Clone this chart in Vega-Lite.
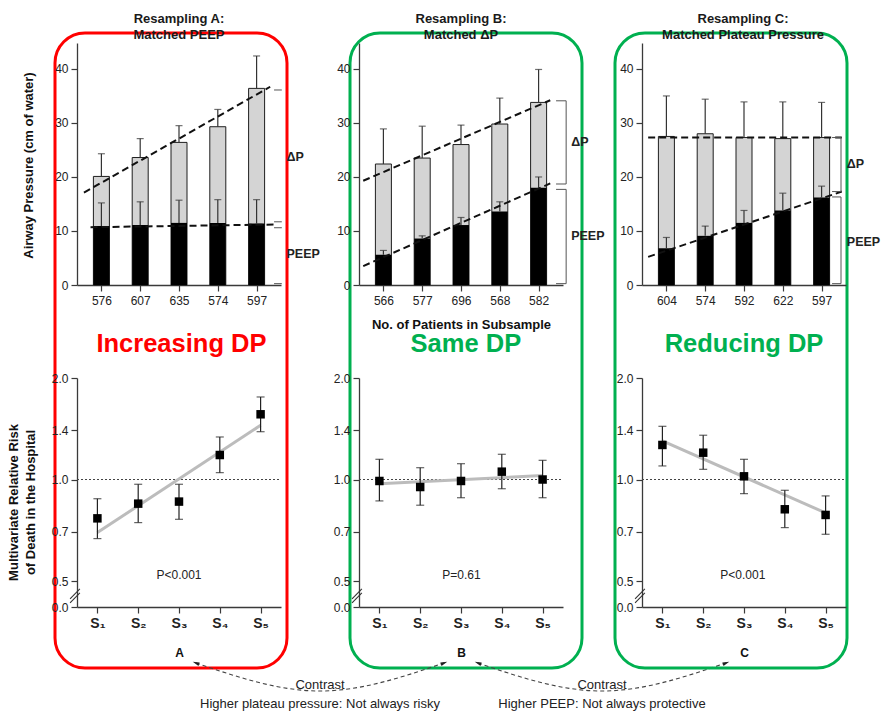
{
  "$schema": "https://vega.github.io/schema/vega-lite/v6.json",
  "background": "white",
  "padding": {"left": 5, "top": 11, "right": 0, "bottom": 0},
  "bounds": "flush",
  "spacing": 63,
  "datasets": {
    "pressureA": [
      {"s": 1, "plateau": 20.1, "plateauHi": 24.3, "peep": 10.9, "peepHi": 15.2},
      {"s": 2, "plateau": 23.6, "plateauHi": 27.1, "peep": 11.1, "peepHi": 15.4},
      {"s": 3, "plateau": 26.4, "plateauHi": 29.5, "peep": 11.5, "peepHi": 15.7},
      {"s": 4, "plateau": 29.3, "plateauHi": 32.5, "peep": 11.5, "peepHi": 15.8},
      {"s": 5, "plateau": 36.4, "plateauHi": 42.4, "peep": 11.4, "peepHi": 15.8}
    ],
    "pressureB": [
      {"s": 1, "plateau": 22.4, "plateauHi": 28.9, "peep": 5.6, "peepHi": 6.4},
      {"s": 2, "plateau": 23.5, "plateauHi": 29.4, "peep": 8.6, "peepHi": 9.1},
      {"s": 3, "plateau": 26.0, "plateauHi": 29.6, "peep": 11.1, "peepHi": 12.5},
      {"s": 4, "plateau": 29.8, "plateauHi": 34.6, "peep": 13.6, "peepHi": 15.4},
      {"s": 5, "plateau": 33.8, "plateauHi": 39.9, "peep": 18.0, "peepHi": 20.0}
    ],
    "pressureC": [
      {"s": 1, "plateau": 27.5, "plateauHi": 35.0, "peep": 6.8, "peepHi": 8.8},
      {"s": 2, "plateau": 28.0, "plateauHi": 34.4, "peep": 9.1, "peepHi": 10.9},
      {"s": 3, "plateau": 27.3, "plateauHi": 33.9, "peep": 11.5, "peepHi": 13.8},
      {"s": 4, "plateau": 27.1, "plateauHi": 33.9, "peep": 13.8, "peepHi": 17.0},
      {"s": 5, "plateau": 27.3, "plateauHi": 33.8, "peep": 16.2, "peepHi": 18.3}
    ],
    "riskA": [
      {"s": 1, "rr": 0.767, "lo": 0.668, "hi": 0.877},
      {"s": 2, "rr": 0.848, "lo": 0.745, "hi": 0.968},
      {"s": 3, "rr": 0.86, "lo": 0.762, "hi": 0.968},
      {"s": 4, "rr": 1.182, "lo": 1.048, "hi": 1.337},
      {"s": 5, "rr": 1.561, "lo": 1.386, "hi": 1.757}
    ],
    "riskB": [
      {"s": 1, "rr": 0.99, "lo": 0.864, "hi": 1.148},
      {"s": 2, "rr": 0.95, "lo": 0.839, "hi": 1.084},
      {"s": 3, "rr": 0.99, "lo": 0.883, "hi": 1.114},
      {"s": 4, "rr": 1.055, "lo": 0.939, "hi": 1.188},
      {"s": 5, "rr": 1.0, "lo": 0.883, "hi": 1.14}
    ],
    "riskC": [
      {"s": 1, "rr": 1.266, "lo": 1.097, "hi": 1.438},
      {"s": 2, "rr": 1.201, "lo": 1.072, "hi": 1.353},
      {"s": 3, "rr": 1.022, "lo": 0.908, "hi": 1.148},
      {"s": 4, "rr": 0.816, "lo": 0.72, "hi": 0.929},
      {"s": 5, "rr": 0.785, "lo": 0.688, "hi": 0.894}
    ],
    "refLine": [{"ref": 1, "from": 0.5, "to": 5.5}],
    "axisBreak": [
      {"x": 0.33, "x2": 0.57, "y": 0.4425, "y2": 0.4738},
      {"x": 0.33, "x2": 0.57, "y": 0.4305, "y2": 0.461}
    ]
  },
  "hconcat": [
    {
      "width": 232,
      "height": 635,
      "view": {"stroke": "#ff0000", "strokeWidth": 3, "cornerRadius": 30},
      "title": {"text": ["Resampling A:", "Matched PEEP"], "dx": 8},
      "resolve": {"scale": {"x": "independent", "y": "independent"}, "axis": {"x": "independent", "y": "independent"}},
      "layer": [
        {
          "layer": [
            {
              "data": {"name": "pressureA"},
              "mark": {"type": "bar", "orient": "vertical", "width": 16, "fill": "#d4d4d4", "stroke": "#1e1e1e", "strokeWidth": 1},
              "encoding": {
                "x": {"field": "s", "type": "quantitative", "scale": {"domain": [0.5, 5.5], "range": [22, 226], "nice": false, "zero": false},
                  "axis": {"orient": "bottom", "offset": -383, "values": [1, 2, 3, 4, 5], "labelExpr": "['576','607','635','574','597'][datum.value - 1]", "title": null, "labelPadding": 4}},
                "y": {"field": "plateau", "type": "quantitative", "scale": {"domain": [0, 44.8], "range": [252, 10], "nice": false, "zero": false},
                  "axis": {"orient": "left", "offset": -22, "values": [0, 10, 20, 30, 40], "title": "Airway Pressure (cm of water)", "titleX": -49, "titleY": 132, "titleBaseline": "middle"}}
              }
            },
            {
              "data": {"name": "pressureA"},
              "mark": {"type": "bar", "orient": "vertical", "width": 16, "fill": "#000000"},
              "encoding": {"x": {"field": "s", "type": "quantitative"}, "y": {"field": "peep", "type": "quantitative"}}
            },
            {
              "data": {"name": "pressureA"},
              "mark": {"type": "rule", "color": "#333333", "strokeWidth": 1.2},
              "encoding": {"x": {"field": "s", "type": "quantitative"}, "y": {"field": "plateau", "type": "quantitative"}, "y2": {"field": "plateauHi"}}
            },
            {
              "data": {"name": "pressureA"},
              "mark": {"type": "tick", "orient": "horizontal", "size": 7, "thickness": 1.2, "color": "#333333"},
              "encoding": {"x": {"field": "s", "type": "quantitative"}, "y": {"field": "plateauHi", "type": "quantitative"}}
            },
            {
              "data": {"name": "pressureA"},
              "mark": {"type": "rule", "color": "#333333", "strokeWidth": 1.2},
              "encoding": {"x": {"field": "s", "type": "quantitative"}, "y": {"field": "peep", "type": "quantitative"}, "y2": {"field": "peepHi"}}
            },
            {
              "data": {"name": "pressureA"},
              "mark": {"type": "tick", "orient": "horizontal", "size": 7, "thickness": 1.2, "color": "#333333"},
              "encoding": {"x": {"field": "s", "type": "quantitative"}, "y": {"field": "peepHi", "type": "quantitative"}}
            },
            {
              "data": {"values": [
                {"line": "plateau", "x": 0.55, "y": 17.1}, {"line": "plateau", "x": 5.35, "y": 36.7},
                {"line": "peep", "x": 0.72, "y": 10.7}, {"line": "peep", "x": 5.48, "y": 11.2}
              ]},
              "mark": {"type": "line", "color": "#111111", "strokeWidth": 2, "strokeDash": [7, 4]},
              "encoding": {"x": {"field": "x", "type": "quantitative"}, "y": {"field": "y", "type": "quantitative"}, "detail": {"field": "line", "type": "nominal"}}
            },
            {
              "data": {"values": [
                {"x": 5.45, "x2": 5.65, "y": 36.1, "y2": 36.1},
                {"x": 5.45, "x2": 5.65, "y": 11.7, "y2": 11.7},
                {"x": 5.45, "x2": 5.65, "y": 10.6, "y2": 10.6},
                {"x": 5.45, "x2": 5.65, "y": 0.25, "y2": 0.25}
              ]},
              "mark": {"type": "rule", "color": "#555555", "strokeWidth": 1},
              "encoding": {"x": {"field": "x", "type": "quantitative"}, "x2": {"field": "x2"}, "y": {"field": "y", "type": "quantitative"}, "y2": {"field": "y2"}}
            },
            {
              "data": {"values": [{"label": "ΔP", "x": 5.77, "y": 23.7}, {"label": "PEEP", "x": 5.77, "y": 5.7}]},
              "mark": {"type": "text", "align": "left", "baseline": "middle", "fontWeight": "bold", "fontSize": 12.5, "color": "#222222"},
              "encoding": {"x": {"field": "x", "type": "quantitative"}, "y": {"field": "y", "type": "quantitative"}, "text": {"field": "label"}}
            }
          ]
        },
        {
          "layer": [
            {
              "data": {"name": "refLine"},
              "mark": {"type": "rule", "color": "#444444", "strokeWidth": 1, "strokeDash": [2, 2]},
              "encoding": {
                "x": {"field": "from", "type": "quantitative", "scale": {"domain": [0.5, 5.5], "range": [22, 226], "nice": false, "zero": false},
                  "axis": {"orient": "bottom", "offset": -61, "values": [1, 2, 3, 4, 5], "labelExpr": "'S' + ['₁','₂','₃','₄','₅'][datum.value - 1]", "title": "A", "titleY": 45, "titleBaseline": "middle", "titleFontSize": 12, "labelFontSize": 14, "labelFontWeight": "bold", "labelPadding": 3}},
                "x2": {"field": "to"},
                "y": {"field": "ref", "type": "quantitative", "scale": {"type": "log", "domain": [0.4187, 2], "range": [574, 345], "nice": false, "zero": false},
                  "axis": {"orient": "left", "offset": -22, "values": [0.4187, 0.5, 0.7, 1, 1.4, 2], "labelExpr": "datum.value < 0.45 ? '0.0' : format(datum.value, '.1f')", "title": ["Multivariate Relative Risk", "of Death in the Hospital"], "titleX": -64, "titleY": 469, "titleBaseline": "middle", "titleLineHeight": 17}}
              }
            },
            {
              "data": {"values": [{"x": 1, "y": 0.696}, {"x": 5, "y": 1.448}]},
              "mark": {"type": "line", "color": "#bcbcbc", "strokeWidth": 3},
              "encoding": {"x": {"field": "x", "type": "quantitative"}, "y": {"field": "y", "type": "quantitative"}}
            },
            {
              "data": {"name": "riskA"},
              "mark": {"type": "rule", "color": "#222222", "strokeWidth": 1.2},
              "encoding": {"x": {"field": "s", "type": "quantitative"}, "y": {"field": "lo", "type": "quantitative"}, "y2": {"field": "hi"}}
            },
            {
              "data": {"name": "riskA"},
              "mark": {"type": "tick", "orient": "horizontal", "size": 8, "thickness": 1.2, "color": "#222222"},
              "encoding": {"x": {"field": "s", "type": "quantitative"}, "y": {"field": "lo", "type": "quantitative"}}
            },
            {
              "data": {"name": "riskA"},
              "mark": {"type": "tick", "orient": "horizontal", "size": 8, "thickness": 1.2, "color": "#222222"},
              "encoding": {"x": {"field": "s", "type": "quantitative"}, "y": {"field": "hi", "type": "quantitative"}}
            },
            {
              "data": {"name": "riskA"},
              "mark": {"type": "point", "shape": "square", "filled": true, "color": "#000000", "size": 72, "opacity": 1},
              "encoding": {"x": {"field": "s", "type": "quantitative"}, "y": {"field": "rr", "type": "quantitative"}}
            },
            {
              "data": {"values": [{"label": "Increasing DP", "x": 3.06, "y": 2.52}]},
              "mark": {"type": "text", "fontSize": 25.5, "fontWeight": "bold", "color": "#ff0000", "baseline": "middle"},
              "encoding": {"x": {"field": "x", "type": "quantitative"}, "y": {"field": "y", "type": "quantitative"}, "text": {"field": "label"}}
            },
            {
              "data": {"values": [{"label": "P<0.001", "x": 3, "y": 0.521}]},
              "mark": {"type": "text", "fontSize": 12, "color": "#222222", "baseline": "middle"},
              "encoding": {"x": {"field": "x", "type": "quantitative"}, "y": {"field": "y", "type": "quantitative"}, "text": {"field": "label"}}
            },
            {
              "data": {"name": "axisBreak"},
              "mark": {"type": "rule", "color": "#333333", "strokeWidth": 1.1},
              "encoding": {"x": {"field": "x", "type": "quantitative"}, "x2": {"field": "x2"}, "y": {"field": "y", "type": "quantitative"}, "y2": {"field": "y2"}}
            }
          ]
        }
      ]
    },
    {
      "bounds": "flush",
      "spacing": 33,
      "hconcat": [
        {
          "width": 232,
          "height": 635,
          "view": {"stroke": "#00b050", "strokeWidth": 3, "cornerRadius": 30},
          "title": {"text": ["Resampling B:", "Matched ΔP"], "dx": -5},
          "resolve": {"scale": {"x": "independent", "y": "independent"}, "axis": {"x": "independent", "y": "independent"}},
          "layer": [
            {
              "layer": [
                {
                  "data": {"name": "pressureB"},
                  "mark": {"type": "bar", "orient": "vertical", "width": 16, "fill": "#d4d4d4", "stroke": "#1e1e1e", "strokeWidth": 1},
                  "encoding": {
                    "x": {"field": "s", "type": "quantitative", "scale": {"domain": [0.5, 5.5], "range": [9, 213], "nice": false, "zero": false},
                      "axis": {"orient": "bottom", "offset": -383, "values": [1, 2, 3, 4, 5], "labelExpr": "['566','577','696','568','582'][datum.value - 1]", "title": "No. of Patients in Subsample", "titleY": 39, "titleBaseline": "middle", "titleFontSize": 13, "labelPadding": 4}},
                    "y": {"field": "plateau", "type": "quantitative", "scale": {"domain": [0, 44.8], "range": [252, 10], "nice": false, "zero": false},
                      "axis": {"orient": "left", "offset": -9, "values": [0, 10, 20, 30, 40], "title": null}}
                  }
                },
                {
                  "data": {"name": "pressureB"},
                  "mark": {"type": "bar", "orient": "vertical", "width": 16, "fill": "#000000"},
                  "encoding": {"x": {"field": "s", "type": "quantitative"}, "y": {"field": "peep", "type": "quantitative"}}
                },
                {
                  "data": {"name": "pressureB"},
                  "mark": {"type": "rule", "color": "#333333", "strokeWidth": 1.2},
                  "encoding": {"x": {"field": "s", "type": "quantitative"}, "y": {"field": "plateau", "type": "quantitative"}, "y2": {"field": "plateauHi"}}
                },
                {
                  "data": {"name": "pressureB"},
                  "mark": {"type": "tick", "orient": "horizontal", "size": 7, "thickness": 1.2, "color": "#333333"},
                  "encoding": {"x": {"field": "s", "type": "quantitative"}, "y": {"field": "plateauHi", "type": "quantitative"}}
                },
                {
                  "data": {"name": "pressureB"},
                  "mark": {"type": "rule", "color": "#333333", "strokeWidth": 1.2},
                  "encoding": {"x": {"field": "s", "type": "quantitative"}, "y": {"field": "peep", "type": "quantitative"}, "y2": {"field": "peepHi"}}
                },
                {
                  "data": {"name": "pressureB"},
                  "mark": {"type": "tick", "orient": "horizontal", "size": 7, "thickness": 1.2, "color": "#333333"},
                  "encoding": {"x": {"field": "s", "type": "quantitative"}, "y": {"field": "peepHi", "type": "quantitative"}}
                },
                {
                  "data": {"values": [
                    {"line": "plateau", "x": 0.48, "y": 19.3}, {"line": "plateau", "x": 5.3, "y": 34.2},
                    {"line": "peep", "x": 0.48, "y": 3.5}, {"line": "peep", "x": 5.3, "y": 18.8}
                  ]},
                  "mark": {"type": "line", "color": "#111111", "strokeWidth": 2, "strokeDash": [7, 4]},
                  "encoding": {"x": {"field": "x", "type": "quantitative"}, "y": {"field": "y", "type": "quantitative"}, "detail": {"field": "line", "type": "nominal"}}
                },
                {
                  "data": {"values": [
                    {"x": 5.45, "x2": 5.71, "y": 34.1, "y2": 34.1},
                    {"x": 5.71, "x2": 5.71, "y": 34.1, "y2": 18.7},
                    {"x": 5.45, "x2": 5.71, "y": 18.7, "y2": 18.7},
                    {"x": 5.45, "x2": 5.71, "y": 17.7, "y2": 17.7},
                    {"x": 5.71, "x2": 5.71, "y": 17.7, "y2": 0.25},
                    {"x": 5.45, "x2": 5.71, "y": 0.25, "y2": 0.25}
                  ]},
                  "mark": {"type": "rule", "color": "#555555", "strokeWidth": 1},
                  "encoding": {"x": {"field": "x", "type": "quantitative"}, "x2": {"field": "x2"}, "y": {"field": "y", "type": "quantitative"}, "y2": {"field": "y2"}}
                },
                {
                  "data": {"values": [{"label": "ΔP", "x": 5.84, "y": 26.4}, {"label": "PEEP", "x": 5.84, "y": 9.1}]},
                  "mark": {"type": "text", "align": "left", "baseline": "middle", "fontWeight": "bold", "fontSize": 12.5, "color": "#222222"},
                  "encoding": {"x": {"field": "x", "type": "quantitative"}, "y": {"field": "y", "type": "quantitative"}, "text": {"field": "label"}}
                }
              ]
            },
            {
              "layer": [
                {
                  "data": {"name": "refLine"},
                  "mark": {"type": "rule", "color": "#444444", "strokeWidth": 1, "strokeDash": [2, 2]},
                  "encoding": {
                    "x": {"field": "from", "type": "quantitative", "scale": {"domain": [0.5, 5.5], "range": [9, 213], "nice": false, "zero": false},
                      "axis": {"orient": "bottom", "offset": -61, "values": [1, 2, 3, 4, 5], "labelExpr": "'S' + ['₁','₂','₃','₄','₅'][datum.value - 1]", "title": "B", "titleY": 45, "titleBaseline": "middle", "titleFontSize": 12, "labelFontSize": 14, "labelFontWeight": "bold", "labelPadding": 3}},
                    "x2": {"field": "to"},
                    "y": {"field": "ref", "type": "quantitative", "scale": {"type": "log", "domain": [0.4187, 2], "range": [574, 345], "nice": false, "zero": false},
                      "axis": {"orient": "left", "offset": -9, "values": [0.4187, 0.5, 0.7, 1, 1.4, 2], "labelExpr": "datum.value < 0.45 ? '0.0' : format(datum.value, '.1f')", "title": null}}
                  }
                },
                {
                  "data": {"values": [{"x": 1, "y": 0.972}, {"x": 5, "y": 1.027}]},
                  "mark": {"type": "line", "color": "#bcbcbc", "strokeWidth": 3},
                  "encoding": {"x": {"field": "x", "type": "quantitative"}, "y": {"field": "y", "type": "quantitative"}}
                },
                {
                  "data": {"name": "riskB"},
                  "mark": {"type": "rule", "color": "#222222", "strokeWidth": 1.2},
                  "encoding": {"x": {"field": "s", "type": "quantitative"}, "y": {"field": "lo", "type": "quantitative"}, "y2": {"field": "hi"}}
                },
                {
                  "data": {"name": "riskB"},
                  "mark": {"type": "tick", "orient": "horizontal", "size": 8, "thickness": 1.2, "color": "#222222"},
                  "encoding": {"x": {"field": "s", "type": "quantitative"}, "y": {"field": "lo", "type": "quantitative"}}
                },
                {
                  "data": {"name": "riskB"},
                  "mark": {"type": "tick", "orient": "horizontal", "size": 8, "thickness": 1.2, "color": "#222222"},
                  "encoding": {"x": {"field": "s", "type": "quantitative"}, "y": {"field": "hi", "type": "quantitative"}}
                },
                {
                  "data": {"name": "riskB"},
                  "mark": {"type": "point", "shape": "square", "filled": true, "color": "#000000", "size": 72, "opacity": 1},
                  "encoding": {"x": {"field": "s", "type": "quantitative"}, "y": {"field": "rr", "type": "quantitative"}}
                },
                {
                  "data": {"values": [{"label": "Same DP", "x": 3.12, "y": 2.52}]},
                  "mark": {"type": "text", "fontSize": 25.5, "fontWeight": "bold", "color": "#00b050", "baseline": "middle"},
                  "encoding": {"x": {"field": "x", "type": "quantitative"}, "y": {"field": "y", "type": "quantitative"}, "text": {"field": "label"}}
                },
                {
                  "data": {"values": [{"label": "P=0.61", "x": 3.01, "y": 0.521}]},
                  "mark": {"type": "text", "fontSize": 12, "color": "#222222", "baseline": "middle"},
                  "encoding": {"x": {"field": "x", "type": "quantitative"}, "y": {"field": "y", "type": "quantitative"}, "text": {"field": "label"}}
                },
                {
                  "data": {"name": "axisBreak"},
                  "mark": {"type": "rule", "color": "#333333", "strokeWidth": 1.1},
                  "encoding": {"x": {"field": "x", "type": "quantitative"}, "x2": {"field": "x2"}, "y": {"field": "y", "type": "quantitative"}, "y2": {"field": "y2"}}
                }
              ]
            },
            {
              "layer": [
                {
                  "data": {"values": [
                    {"arc": "AB", "x": 1.06, "y": 1}, {"arc": "AB", "x": 1.5, "y": 0}, {"arc": "AB", "x": 1.94, "y": 1},
                    {"arc": "BC", "x": 2.06, "y": 1}, {"arc": "BC", "x": 2.5, "y": 0}, {"arc": "BC", "x": 2.94, "y": 1}
                  ]},
                  "mark": {"type": "line", "interpolate": "natural", "color": "#444444", "strokeWidth": 1.1, "strokeDash": [4, 3]},
                  "encoding": {
                    "x": {"field": "x", "type": "quantitative", "scale": {"domain": [1, 3], "range": [-171, 393], "nice": false, "zero": false}, "axis": null},
                    "y": {"field": "y", "type": "quantitative", "scale": {"domain": [0, 1], "range": [658, 630], "nice": false, "zero": false}, "axis": null},
                    "detail": {"field": "arc", "type": "nominal"}
                  }
                },
                {
                  "data": {"values": [{"x": 1.06, "y": 1}, {"x": 2.06, "y": 1}]},
                  "mark": {"type": "point", "shape": "M0,-1L0.55,1L-0.55,1Z", "filled": true, "color": "#222222", "size": 45, "opacity": 1, "angle": 290},
                  "encoding": {"x": {"field": "x", "type": "quantitative"}, "y": {"field": "y", "type": "quantitative"}}
                },
                {
                  "data": {"values": [{"x": 1.94, "y": 1}, {"x": 2.94, "y": 1}]},
                  "mark": {"type": "point", "shape": "M0,-1L0.55,1L-0.55,1Z", "filled": true, "color": "#222222", "size": 45, "opacity": 1, "angle": 70},
                  "encoding": {"x": {"field": "x", "type": "quantitative"}, "y": {"field": "y", "type": "quantitative"}}
                },
                {
                  "data": {"values": [
                    {"label": "Contrast", "x": 1.5, "y": 0.214},
                    {"label": "Higher plateau pressure: Not always risky", "x": 1.5, "y": -0.464},
                    {"label": "Contrast", "x": 2.5, "y": 0.214},
                    {"label": "Higher PEEP: Not always protective", "x": 2.5, "y": -0.464}
                  ]},
                  "mark": {"type": "text", "fontSize": 13, "color": "#222222", "baseline": "middle"},
                  "encoding": {"x": {"field": "x", "type": "quantitative"}, "y": {"field": "y", "type": "quantitative"}, "text": {"field": "label"}}
                }
              ]
            }
          ]
        },
        {
          "width": 232,
          "height": 635,
          "view": {"stroke": "#00b050", "strokeWidth": 3, "cornerRadius": 30},
          "title": {"text": ["Resampling C:", "Matched Plateau Pressure"], "dx": 12},
          "resolve": {"scale": {"x": "independent", "y": "independent"}, "axis": {"x": "independent", "y": "independent"}},
          "layer": [
            {
              "layer": [
                {
                  "data": {"name": "pressureC"},
                  "mark": {"type": "bar", "orient": "vertical", "width": 16, "fill": "#d4d4d4", "stroke": "#1e1e1e", "strokeWidth": 1},
                  "encoding": {
                    "x": {"field": "s", "type": "quantitative", "scale": {"domain": [0.5, 5.5], "range": [27, 231], "nice": false, "zero": false},
                      "axis": {"orient": "bottom", "offset": -383, "values": [1, 2, 3, 4, 5], "labelExpr": "['604','574','592','622','597'][datum.value - 1]", "title": null, "labelPadding": 4}},
                    "y": {"field": "plateau", "type": "quantitative", "scale": {"domain": [0, 44.8], "range": [252, 10], "nice": false, "zero": false},
                      "axis": {"orient": "left", "offset": -27, "values": [0, 10, 20, 30, 40], "title": null}}
                  }
                },
                {
                  "data": {"name": "pressureC"},
                  "mark": {"type": "bar", "orient": "vertical", "width": 16, "fill": "#000000"},
                  "encoding": {"x": {"field": "s", "type": "quantitative"}, "y": {"field": "peep", "type": "quantitative"}}
                },
                {
                  "data": {"name": "pressureC"},
                  "mark": {"type": "rule", "color": "#333333", "strokeWidth": 1.2},
                  "encoding": {"x": {"field": "s", "type": "quantitative"}, "y": {"field": "plateau", "type": "quantitative"}, "y2": {"field": "plateauHi"}}
                },
                {
                  "data": {"name": "pressureC"},
                  "mark": {"type": "tick", "orient": "horizontal", "size": 7, "thickness": 1.2, "color": "#333333"},
                  "encoding": {"x": {"field": "s", "type": "quantitative"}, "y": {"field": "plateauHi", "type": "quantitative"}}
                },
                {
                  "data": {"name": "pressureC"},
                  "mark": {"type": "rule", "color": "#333333", "strokeWidth": 1.2},
                  "encoding": {"x": {"field": "s", "type": "quantitative"}, "y": {"field": "peep", "type": "quantitative"}, "y2": {"field": "peepHi"}}
                },
                {
                  "data": {"name": "pressureC"},
                  "mark": {"type": "tick", "orient": "horizontal", "size": 7, "thickness": 1.2, "color": "#333333"},
                  "encoding": {"x": {"field": "s", "type": "quantitative"}, "y": {"field": "peepHi", "type": "quantitative"}}
                },
                {
                  "data": {"values": [
                    {"line": "plateau", "x": 0.53, "y": 27.3}, {"line": "plateau", "x": 5.52, "y": 27.3},
                    {"line": "peep", "x": 0.53, "y": 5.2}, {"line": "peep", "x": 5.52, "y": 17.3}
                  ]},
                  "mark": {"type": "line", "color": "#111111", "strokeWidth": 2, "strokeDash": [7, 4]},
                  "encoding": {"x": {"field": "x", "type": "quantitative"}, "y": {"field": "y", "type": "quantitative"}, "detail": {"field": "line", "type": "nominal"}}
                },
                {
                  "data": {"values": [
                    {"x": 5.27, "x2": 5.5, "y": 27.3, "y2": 27.3},
                    {"x": 5.5, "x2": 5.5, "y": 27.3, "y2": 17.3},
                    {"x": 5.27, "x2": 5.5, "y": 17.3, "y2": 17.3},
                    {"x": 5.27, "x2": 5.5, "y": 16.3, "y2": 16.3},
                    {"x": 5.5, "x2": 5.5, "y": 16.3, "y2": 0.25},
                    {"x": 5.27, "x2": 5.5, "y": 0.25, "y2": 0.25}
                  ]},
                  "mark": {"type": "rule", "color": "#555555", "strokeWidth": 1},
                  "encoding": {"x": {"field": "x", "type": "quantitative"}, "x2": {"field": "x2"}, "y": {"field": "y", "type": "quantitative"}, "y2": {"field": "y2"}}
                },
                {
                  "data": {"values": [{"label": "ΔP", "x": 5.65, "y": 22.4}, {"label": "PEEP", "x": 5.65, "y": 8.0}]},
                  "mark": {"type": "text", "align": "left", "baseline": "middle", "fontWeight": "bold", "fontSize": 12.5, "color": "#222222"},
                  "encoding": {"x": {"field": "x", "type": "quantitative"}, "y": {"field": "y", "type": "quantitative"}, "text": {"field": "label"}}
                }
              ]
            },
            {
              "layer": [
                {
                  "data": {"name": "refLine"},
                  "mark": {"type": "rule", "color": "#444444", "strokeWidth": 1, "strokeDash": [2, 2]},
                  "encoding": {
                    "x": {"field": "from", "type": "quantitative", "scale": {"domain": [0.5, 5.5], "range": [27, 231], "nice": false, "zero": false},
                      "axis": {"orient": "bottom", "offset": -61, "values": [1, 2, 3, 4, 5], "labelExpr": "'S' + ['₁','₂','₃','₄','₅'][datum.value - 1]", "title": "C", "titleY": 45, "titleBaseline": "middle", "titleFontSize": 12, "labelFontSize": 14, "labelFontWeight": "bold", "labelPadding": 3}},
                    "x2": {"field": "to"},
                    "y": {"field": "ref", "type": "quantitative", "scale": {"type": "log", "domain": [0.4187, 2], "range": [574, 345], "nice": false, "zero": false},
                      "axis": {"orient": "left", "offset": -27, "values": [0.4187, 0.5, 0.7, 1, 1.4, 2], "labelExpr": "datum.value < 0.45 ? '0.0' : format(datum.value, '.1f')", "title": null}}
                  }
                },
                {
                  "data": {"values": [{"x": 1, "y": 1.301}, {"x": 5, "y": 0.796}]},
                  "mark": {"type": "line", "color": "#bcbcbc", "strokeWidth": 3},
                  "encoding": {"x": {"field": "x", "type": "quantitative"}, "y": {"field": "y", "type": "quantitative"}}
                },
                {
                  "data": {"name": "riskC"},
                  "mark": {"type": "rule", "color": "#222222", "strokeWidth": 1.2},
                  "encoding": {"x": {"field": "s", "type": "quantitative"}, "y": {"field": "lo", "type": "quantitative"}, "y2": {"field": "hi"}}
                },
                {
                  "data": {"name": "riskC"},
                  "mark": {"type": "tick", "orient": "horizontal", "size": 8, "thickness": 1.2, "color": "#222222"},
                  "encoding": {"x": {"field": "s", "type": "quantitative"}, "y": {"field": "lo", "type": "quantitative"}}
                },
                {
                  "data": {"name": "riskC"},
                  "mark": {"type": "tick", "orient": "horizontal", "size": 8, "thickness": 1.2, "color": "#222222"},
                  "encoding": {"x": {"field": "s", "type": "quantitative"}, "y": {"field": "hi", "type": "quantitative"}}
                },
                {
                  "data": {"name": "riskC"},
                  "mark": {"type": "point", "shape": "square", "filled": true, "color": "#000000", "size": 72, "opacity": 1},
                  "encoding": {"x": {"field": "s", "type": "quantitative"}, "y": {"field": "rr", "type": "quantitative"}}
                },
                {
                  "data": {"values": [{"label": "Reducing DP", "x": 3.0, "y": 2.52}]},
                  "mark": {"type": "text", "fontSize": 25.5, "fontWeight": "bold", "color": "#00b050", "baseline": "middle"},
                  "encoding": {"x": {"field": "x", "type": "quantitative"}, "y": {"field": "y", "type": "quantitative"}, "text": {"field": "label"}}
                },
                {
                  "data": {"values": [{"label": "P<0.001", "x": 2.97, "y": 0.521}]},
                  "mark": {"type": "text", "fontSize": 12, "color": "#222222", "baseline": "middle"},
                  "encoding": {"x": {"field": "x", "type": "quantitative"}, "y": {"field": "y", "type": "quantitative"}, "text": {"field": "label"}}
                },
                {
                  "data": {"name": "axisBreak"},
                  "mark": {"type": "rule", "color": "#333333", "strokeWidth": 1.1},
                  "encoding": {"x": {"field": "x", "type": "quantitative"}, "x2": {"field": "x2"}, "y": {"field": "y", "type": "quantitative"}, "y2": {"field": "y2"}}
                }
              ]
            }
          ]
        }
      ]
    }
  ],
  "config": {
    "font": "Liberation Sans",
    "view": {"stroke": null},
    "axis": {
      "domainColor": "#3a3a3a",
      "tickColor": "#3a3a3a",
      "domainWidth": 1.3,
      "tickWidth": 1.2,
      "labelColor": "#222222",
      "titleColor": "#111111",
      "labelFontSize": 12,
      "titleFontSize": 13,
      "titleFontWeight": "bold",
      "grid": false,
      "labelFlush": false,
      "labelOverlap": false,
      "tickSize": 6,
      "labelPadding": 3
    },
    "title": {"fontSize": 13, "fontWeight": "bold", "color": "#1a1a1a", "frame": "group", "anchor": "middle", "lineHeight": 16, "offset": -9, "baseline": "bottom"}
  }
}
